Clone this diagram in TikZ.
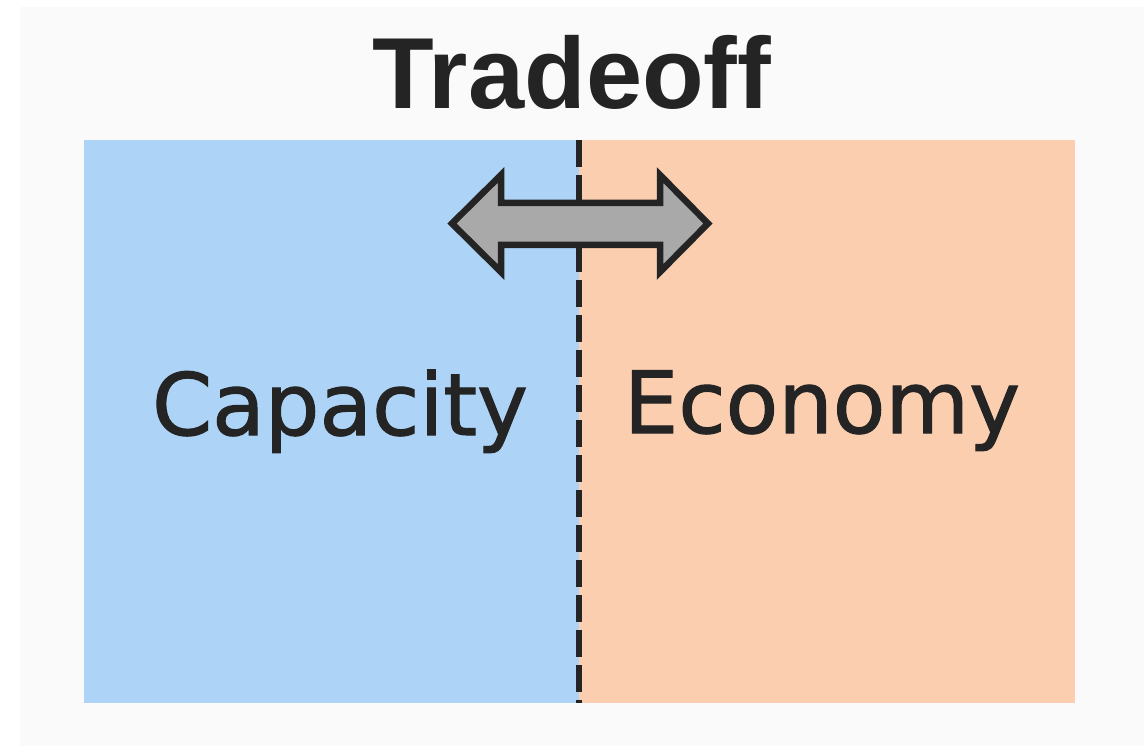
\documentclass[tikz,border=0pt]{standalone}
\usepackage{fontspec}
\setmainfont{DejaVu Sans}
\newfontfamily\labelfont[FakeBold=1.3]{DejaVu Sans}
\newfontfamily\titlefont{Liberation Sans}
\begin{document}
\begin{tikzpicture}[x=1pt,y=-1pt,
  panel/.style={draw=none,inner sep=0pt,anchor=north west},
  label/.style={text=inkdark,inner sep=0pt,anchor=base},
  divider/.style={draw=inkdark,line width=5.5pt,dash pattern=on 27pt off 8pt},
  swaparrow/.style={fill=arrowgray,draw=inkdark,line width=6.5pt,line join=miter,miter limit=4}]
  \definecolor{inkdark}{HTML}{242424}
  \definecolor{pagegray}{HTML}{FAFAFA}
  \definecolor{capblue}{HTML}{ADD3F6}
  \definecolor{ecopeach}{HTML}{FBCEB0}
  \definecolor{arrowgray}{HTML}{A9A9A9}

  % page and backdrop
  \useasboundingbox (0,0) rectangle (1144,746);
  \fill[white] (0,0) rectangle (1144,746);
  \fill[pagegray] (20,7) rectangle (1144,746);

  % the two halves (the blue one runs under the peach one to avoid a seam)
  \node[panel,fill=capblue,minimum width=498pt,minimum height=563pt] (cap) at (84,140) {};
  \node[panel,fill=ecopeach,minimum width=496pt,minimum height=563pt] (eco) at (579,140) {};

  % dashed divider between the halves
  \coordinate (divtop) at (579,140);
  \coordinate (divbot) at (579,703);
  \draw[divider] (divtop) -- (divbot);

  % two-headed arrow across the divider
  \draw[swaparrow] (452,223.5) -- (501,175) -- (501,203) -- (660,203) -- (660,175)
    -- (708,223.5) -- (660,272) -- (660,245) -- (501,245) -- (501,272) -- cycle;

  % texts
  \node[label,font=\titlefont\bfseries\fontsize{101}{110}\selectfont] (title) at (572,109) {Tradeoff};
  \node[label,font=\labelfont\fontsize{86}{95}\selectfont] (capacity) at (340,435) {Capacity};
  \node[label,font=\labelfont\fontsize{86}{95}\selectfont] (economy) at (822,433) {Economy};
\end{tikzpicture}
\end{document}
